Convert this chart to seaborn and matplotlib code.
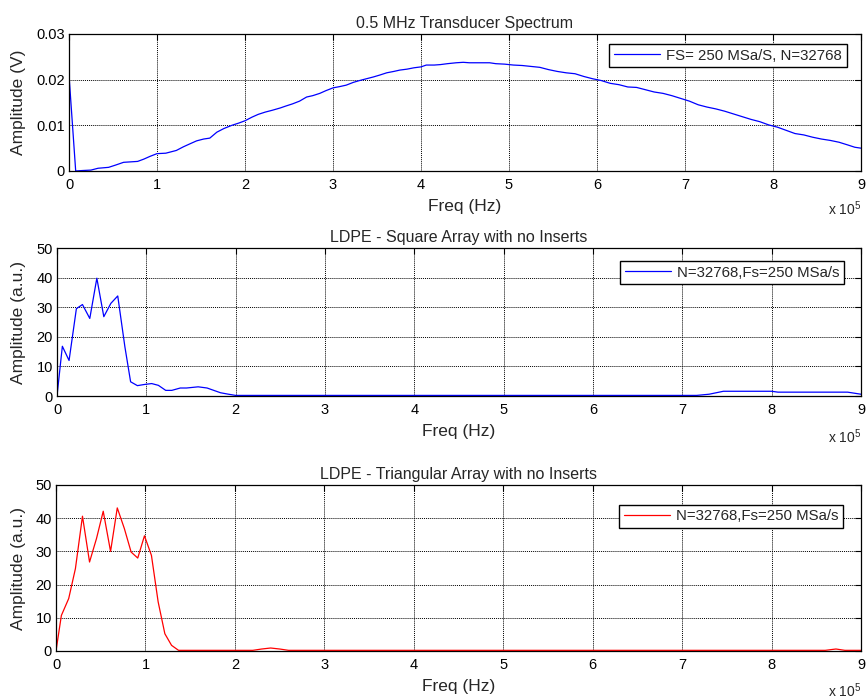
import matplotlib
matplotlib.use("Agg")
import matplotlib.pyplot as plt
import seaborn as sns
import pandas as pd

# ---------------- data (frequency in units of 1e5 Hz) ----------------
top_freq = [0.0, 0.076, 0.15, 0.25, 0.33, 0.45, 0.53, 0.62, 0.7, 0.78, 0.85, 0.92,
            1.0, 1.1, 1.22, 1.3, 1.38, 1.45, 1.53, 1.6, 1.68, 1.76, 1.85, 1.93,
            2.0, 2.08, 2.15, 2.23, 2.31, 2.4, 2.46, 2.54, 2.62, 2.7, 2.77, 2.85, 2.92,
            3.0, 3.08, 3.15, 3.23, 3.3, 3.38, 3.46, 3.53, 3.61, 3.69, 3.76, 3.84, 3.92,
            4.0, 4.06, 4.15, 4.22, 4.3, 4.4, 4.48, 4.55, 4.65, 4.78, 4.85, 4.95,
            5.05, 5.15, 5.25, 5.35, 5.45, 5.55, 5.65, 5.75, 5.85, 5.95,
            6.05, 6.15, 6.25, 6.35, 6.45, 6.55, 6.65, 6.75, 6.85, 6.95,
            7.05, 7.15, 7.25, 7.35, 7.45, 7.55, 7.65, 7.75, 7.85, 7.95,
            8.05, 8.15, 8.25, 8.35, 8.45, 8.55, 8.65, 8.75, 8.85, 8.93, 9.0]
top_amp = [0.021, 0.0, 0.0001, 0.0002, 0.0006, 0.0008, 0.0013, 0.0019, 0.002, 0.0021, 0.0026, 0.0032,
           0.0038, 0.0039, 0.0045, 0.0053, 0.006, 0.0066, 0.007, 0.0072, 0.0085, 0.0093, 0.0100, 0.0105,
           0.011, 0.0118, 0.0124, 0.0129, 0.0133, 0.0138, 0.0142, 0.0147, 0.0153, 0.0162, 0.0165, 0.017, 0.0176,
           0.0182, 0.0185, 0.0188, 0.0194, 0.0198, 0.0202, 0.0206, 0.0210, 0.0215, 0.0218, 0.0221, 0.0223, 0.0226,
           0.0228, 0.0232, 0.0232, 0.0233, 0.0235, 0.0237, 0.0238, 0.0237, 0.0237, 0.0237, 0.0235, 0.0234,
           0.0232, 0.0231, 0.0229, 0.0227, 0.0222, 0.0218, 0.0215, 0.0213, 0.0207, 0.0202,
           0.0198, 0.0192, 0.0189, 0.0184, 0.0183, 0.0178, 0.0173, 0.017, 0.0165, 0.0159,
           0.0153, 0.0145, 0.0140, 0.0136, 0.0131, 0.0125, 0.0119, 0.0113, 0.0108, 0.0101,
           0.0096, 0.0089, 0.0082, 0.0079, 0.0074, 0.0070, 0.0067, 0.0063, 0.0057, 0.0052, 0.0050]

sq_freq = [0, 0.06, 0.135, 0.217, 0.285, 0.367, 0.446, 0.524, 0.603, 0.68, 0.76, 0.824,
           0.9, 0.98, 1.06, 1.135, 1.217, 1.285, 1.38, 1.45, 1.58, 1.68, 1.83, 1.92,
           2.0, 3.0, 5.0, 7.16, 7.3, 7.46, 8.0, 8.07, 8.85, 9.0]
sq_amp = [0, 16.8, 12, 29.5, 30.9, 26.2, 39.8, 26.8, 31.3, 33.8, 16.6, 4.8,
          3.5, 3.9, 4.2, 3.6, 1.9, 1.9, 2.7, 2.7, 3.1, 2.7, 1.1, 0.6,
          0.2, 0.2, 0.2, 0.2, 0.6, 1.6, 1.6, 1.3, 1.3, 0.6]

tri_freq = [0, 0.06, 0.142, 0.217, 0.296, 0.375, 0.453, 0.528, 0.61, 0.685, 0.764, 0.84,
            0.914, 0.989, 1.067, 1.142, 1.217, 1.292, 1.37, 2.2, 2.3, 2.4, 2.5, 2.6,
            8.6, 8.72, 8.82, 9.0]
tri_amp = [0, 10.7, 15.8, 24.8, 40.6, 26.8, 33.9, 42.1, 30, 43.1, 36.9, 29.8,
           28, 34.7, 28.8, 14.8, 5.2, 1.7, 0.2, 0.2, 0.6, 0.9, 0.6, 0.2,
           0.2, 0.6, 0.2, 0.2]

titles = ["0.5 MHz Transducer Spectrum",
          "LDPE - Square Array with no Inserts",
          "LDPE - Triangular Array with no Inserts"]
ylabels = ["Amplitude (V)", "Amplitude (a.u.)", "Amplitude (a.u.)"]
legend_labels = ["FS= 250 MSa/S, N=32768",
                 "N=32768,Fs=250 MSa/s",
                 "N=32768,Fs=250 MSa/s"]
x_ticks = [0, 1, 2, 3, 4, 5, 6, 7, 8, 9]
y_ticks_top = [0, 0.01, 0.02, 0.03]
y_ticks_amp = [0, 10, 20, 30, 40, 50]

# ---------------- style ----------------
sns.set_style("white")
plt.rcParams["font.family"] = ["Liberation Sans", "DejaVu Sans"]
plt.rcParams["mathtext.fontset"] = "custom"
plt.rcParams["mathtext.rm"] = "Liberation Sans"
plt.rcParams["mathtext.it"] = "Liberation Sans"

fig = plt.figure(figsize=(8.66, 7.0), dpi=100)
W, H = 866, 700

def px_axes(l, t, r, b):
    return fig.add_axes([l / W, 1 - b / H, (r - l) / W, (b - t) / H])

ax1 = px_axes(69, 34, 861, 171)
ax2 = px_axes(57, 248, 861, 396)
ax3 = px_axes(56, 485, 861, 651)

panels = [
    (ax1, top_freq, top_amp, "#0000FF", y_ticks_top, (0, 0.03), ["0", "0.01", "0.02", "0.03"]),
    (ax2, sq_freq, sq_amp, "#0000FF", y_ticks_amp, (0, 50), None),
    (ax3, tri_freq, tri_amp, "#FF0000", y_ticks_amp, (0, 50), None),
]
leg_anchor = [(0.982, 0.927), (0.979, 0.912), (0.978, 0.88)]
ylab_x = [-0.054, -0.0386, -0.0373]
offset_y = [-31.5, -33.5, -33.0]

for i, (ax, fx, fy, col, yt, ylim, ytl) in enumerate(panels):
    df = pd.DataFrame({"freq": fx, "amp": fy})
    sns.lineplot(data=df, x="freq", y="amp", ax=ax, color=col, linewidth=0.9,
                 label=legend_labels[i], estimator=None, sort=False)
    ax.set_xlim(0, 9)
    ax.set_ylim(*ylim)
    ax.set_xticks(x_ticks)
    ax.set_xticklabels([str(t) for t in x_ticks])
    ax.set_yticks(yt)
    if ytl is not None:
        ax.set_yticklabels(ytl)
    ax.grid(True, color="black", linestyle=(0, (1, 1)), linewidth=0.7)
    for s in ax.spines.values():
        s.set_visible(True)
        s.set_color("black")
        s.set_linewidth(0.9)
    ax.tick_params(axis="both", direction="in", length=4, width=0.8,
                   top=True, right=True, labelsize=10.5, colors="black")
    ax.tick_params(axis="x", pad=5)
    ax.tick_params(axis="y", pad=3)
    ax.set_title(titles[i], fontsize=11.5, pad=4)
    ax.set_xlabel("Freq (Hz)", fontsize=12.5, labelpad=5)
    ax.set_ylabel(ylabels[i], fontsize=12.5)
    ax.yaxis.set_label_coords(ylab_x[i], 0.5)
    leg = ax.legend(loc="upper right", bbox_to_anchor=leg_anchor[i], fontsize=10.8,
                    frameon=True, fancybox=False, framealpha=1, edgecolor="black",
                    handlelength=3.1, borderpad=0.3, borderaxespad=0, handletextpad=0.4)
    leg.get_frame().set_linewidth(1.0)
    ax.annotate(r"x 10$^5$", xy=(1, 0), xycoords="axes fraction",
                xytext=(0, offset_y[i]), textcoords="offset points",
                ha="right", va="baseline", fontsize=10)

fig.savefig("out.png", dpi=100, facecolor="white")
